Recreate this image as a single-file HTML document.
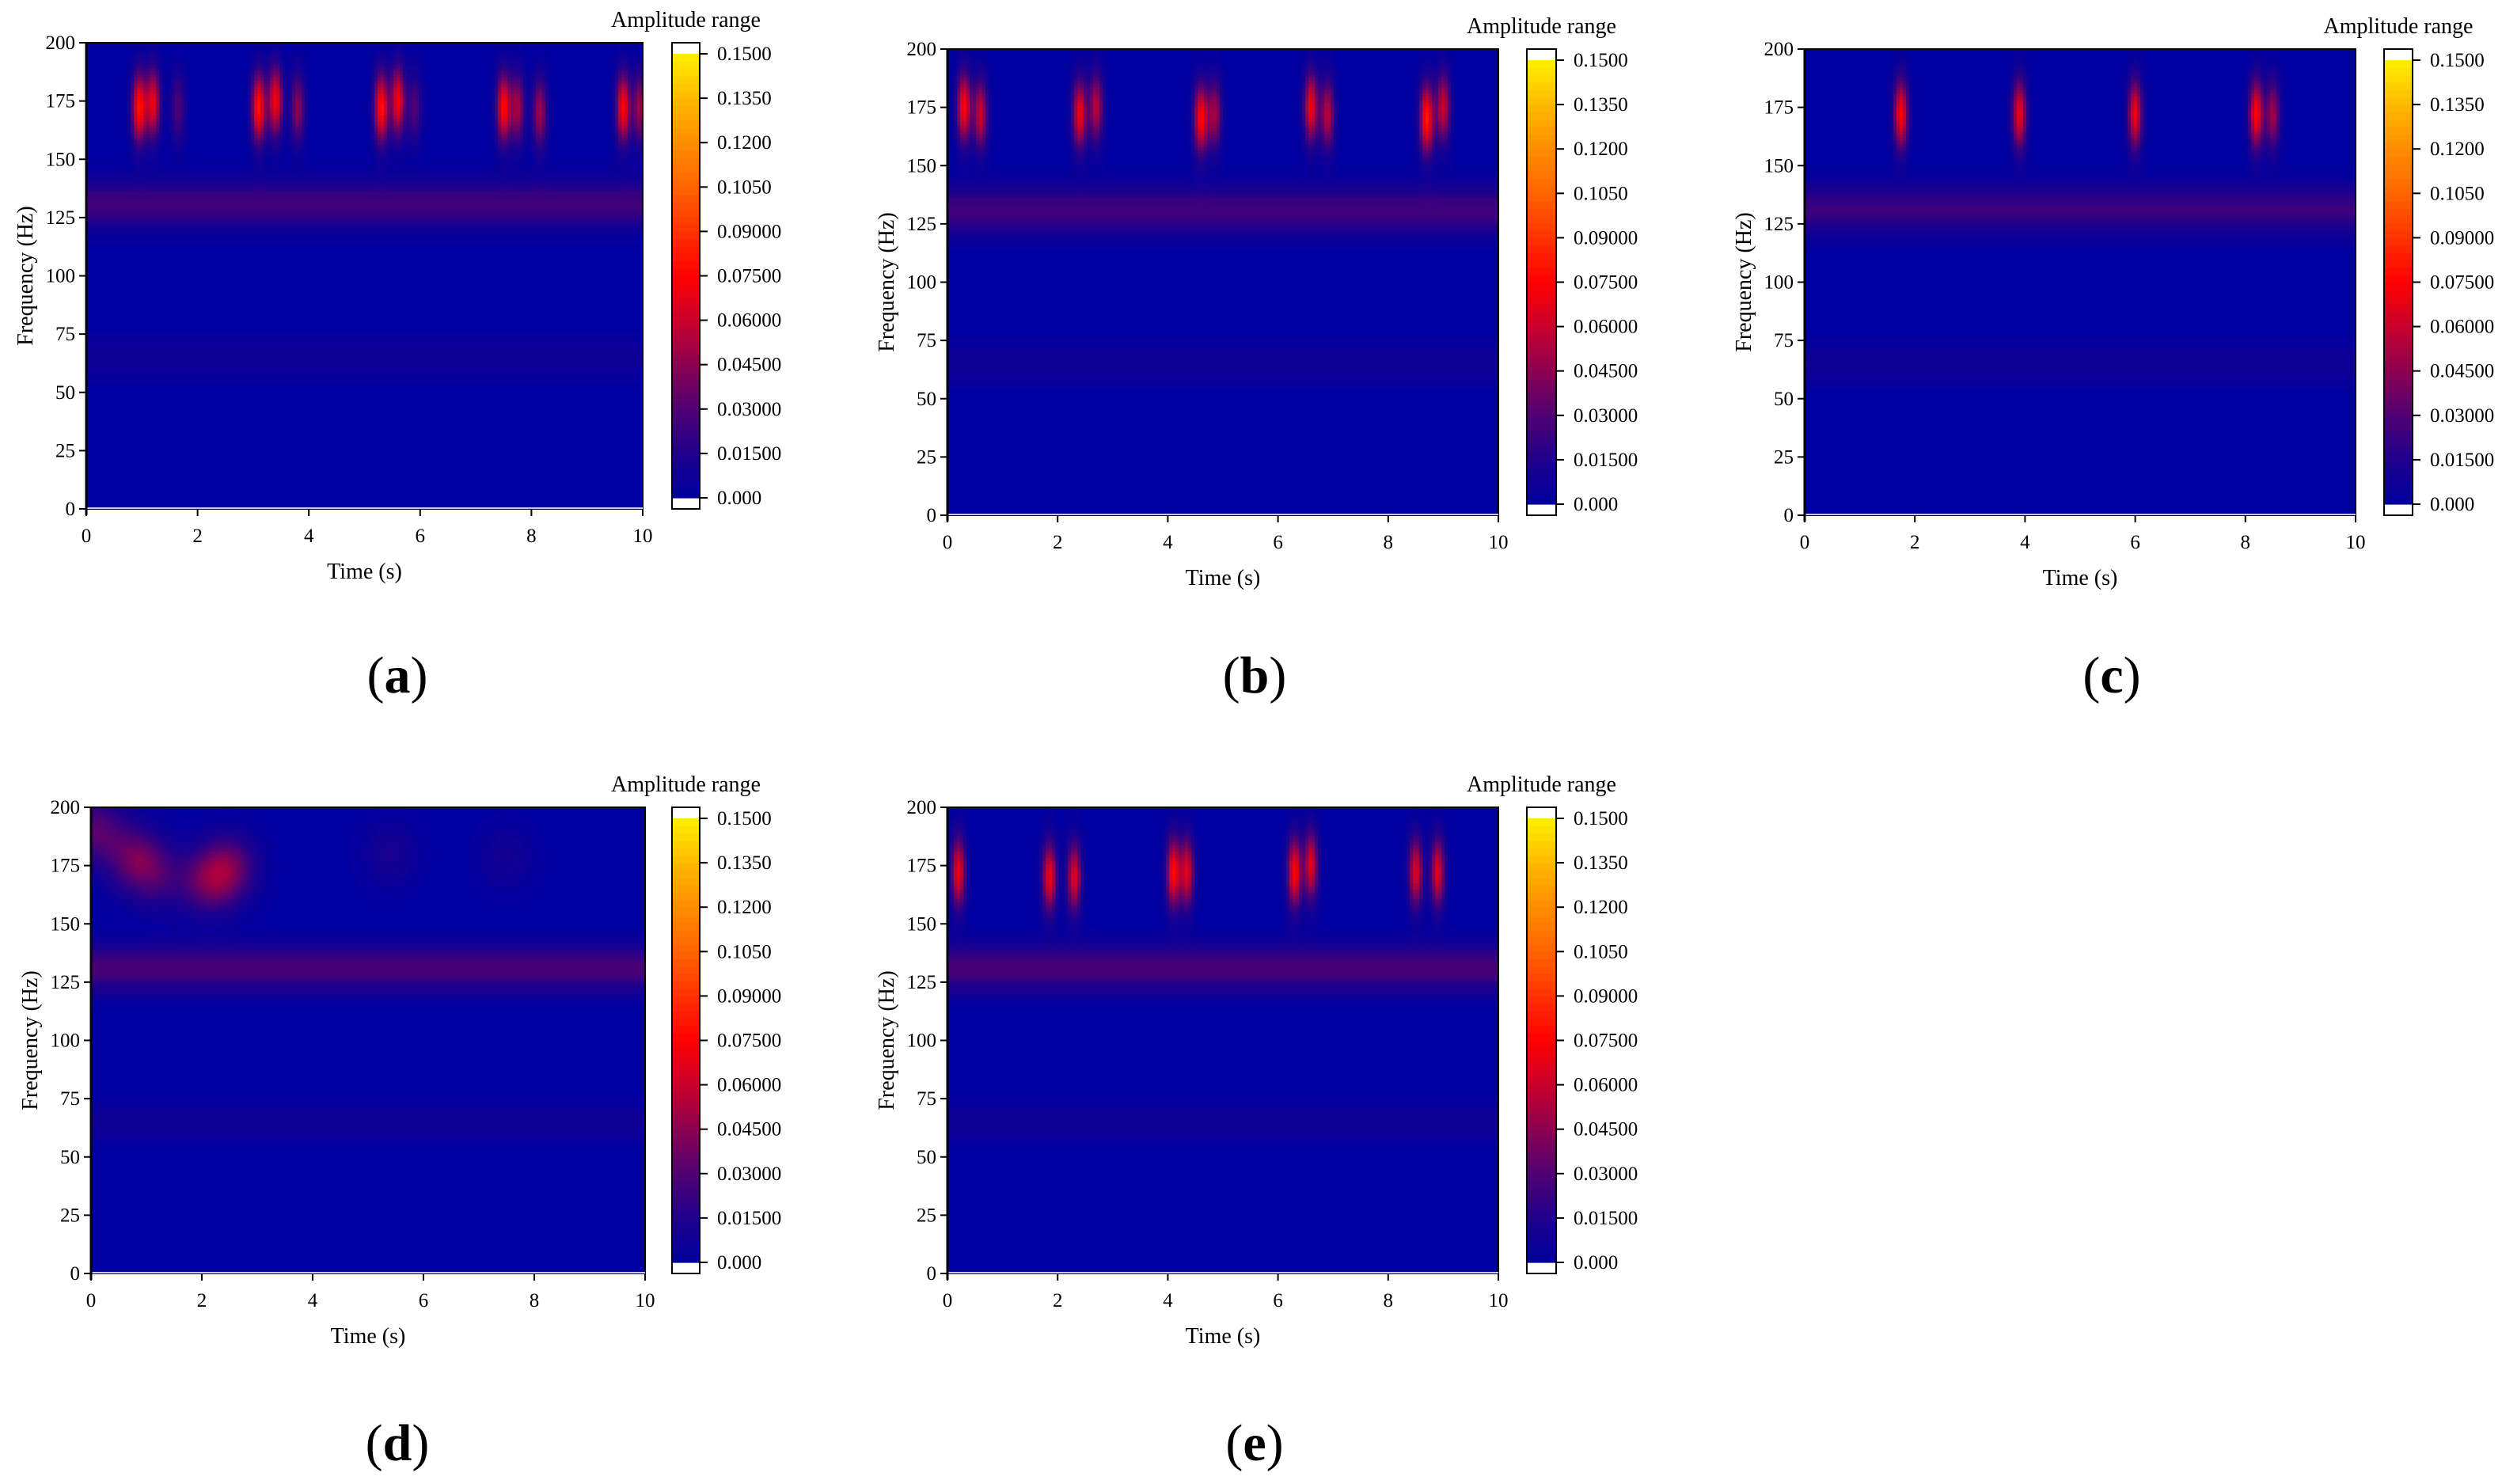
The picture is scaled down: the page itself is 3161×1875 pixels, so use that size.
<!DOCTYPE html>
<html><head><meta charset="utf-8">
<style>
html,body{margin:0;padding:0;background:#fff;}
#root{position:relative;width:3161px;height:1875px;overflow:hidden;font-family:"Liberation Serif",serif;}
#fig{position:absolute;left:0;top:0;}
</style></head>
<body>
<div id="root">
<svg id="fig" width="3161" height="1875" xmlns="http://www.w3.org/2000/svg" shape-rendering="crispEdges"><g id="heat"></g><g id="axes" shape-rendering="auto"></g></svg>
</div>
<script>
// ---- data ----
var xTicks = [0,2,4,6,8,10];
var yTicks = [0,25,50,75,100,125,150,175,200];
var cbTicks = [0.15,0.135,0.12,0.105,0.09,0.075,0.06,0.045,0.03,0.015,0];
var cbLabels = ["0.1500","0.1350","0.1200","0.1050","0.09000","0.07500","0.06000","0.04500","0.03000","0.01500","0.000"];
var burstTimesA = [0.95,1.2,1.65,3.1,3.4,3.8,5.3,5.6,5.9,7.5,7.75,8.15,9.65,9.95];
var burstFreqsA = [172,174,172,172,175,172,172,175,172,172,172,170,172,172];
var burstAmpsA  = [0.08,0.068,0.03,0.08,0.072,0.045,0.08,0.07,0.03,0.075,0.05,0.05,0.075,0.05];
var burstTimesB = [0.3,0.6,2.4,2.7,4.6,4.85,6.6,6.9,8.7,9.0];
var burstFreqsB = [175,172,172,175,170,172,175,172,170,175];
var burstAmpsB  = [0.075,0.06,0.07,0.055,0.075,0.05,0.07,0.055,0.082,0.06];
var burstTimesC = [1.75,3.9,6.0,8.2,8.5];
var burstFreqsC = [172,172,172,172,172];
var burstAmpsC  = [0.075,0.07,0.07,0.075,0.05];
var burstTimesD = [0.1,0.8,1.2,2.1,2.5,5.4,7.5];
var burstFreqsD = [190,178,170,168,174,180,178];
var burstAmpsD  = [0.03,0.032,0.02,0.032,0.034,0.012,0.01];
var burstTimesE = [0.2,1.85,2.3,4.1,4.35,6.3,6.6,8.5,8.9];
var burstFreqsE = [172,170,170,172,172,172,175,172,172];
var burstAmpsE  = [0.07,0.07,0.065,0.075,0.065,0.075,0.065,0.065,0.065];
var bandLevels = [0.026,0.026,0.024,0.028,0.028];
var panelLetters = ["a","b","c","d","e"];

var panels = [
 {l:109,r:812,t:54,b:643,cb:849,cbr:884,tx:burstTimesA,fq:burstFreqsA,am:burstAmpsA},
 {l:1197,r:1893,t:62,b:651,cb:1929,cbr:1966,tx:burstTimesB,fq:burstFreqsB,am:burstAmpsB},
 {l:2280,r:2976,t:62,b:651,cb:3012,cbr:3048,tx:burstTimesC,fq:burstFreqsC,am:burstAmpsC},
 {l:115,r:815,t:1020,b:1609,cb:849,cbr:884,tx:burstTimesD,fq:burstFreqsD,am:burstAmpsD},
 {l:1197,r:1893,t:1020,b:1609,cb:1929,cbr:1966,tx:burstTimesE,fq:burstFreqsE,am:burstAmpsE}
];
var labelPos=[[502,875],[1585,875],[2668,875],[502,1845],[1585,1845]];

var stops=[[0,[0,0,160]],[0.015,[30,0,140]],[0.03,[80,0,115]],[0.045,[140,0,80]],[0.06,[200,0,45]],[0.075,[255,0,0]],[0.09,[255,50,0]],[0.105,[255,100,0]],[0.12,[255,140,0]],[0.135,[255,185,0]],[0.15,[255,240,0]]];
function cmap(v){
  if(v<=0)return stops[0][1];
  for(var i=1;i<stops.length;i++){ if(v<=stops[i][0]){var a=stops[i-1],b=stops[i];var f=(v-a[0])/(b[0]-a[0]);return [0,1,2].map(function(k){return Math.round(a[1][k]+(b[1][k]-a[1][k])*f);});}}
  return stops[stops.length-1][1];
}
var NS="http://www.w3.org/2000/svg";
var axesG=document.getElementById('axes');
var heatG=document.getElementById('heat');
function mk(parent,tag,attrs,txt){var e=document.createElementNS(NS,tag);for(var k in attrs)e.setAttribute(k,attrs[k]);if(txt!==undefined)e.textContent=String(txt);parent.appendChild(e);return e;}
function el(tag,attrs,txt){return mk(axesG,tag,attrs,txt);}

function drawHeat(p,pi){
  var W=p.r-p.l,H=p.b-p.t,cw=4,ch=4;
  var nx=Math.ceil(W/cw),ny=Math.ceil(H/ch);
  var g=mk(heatG,'g',{});
  
  
  var band=bandLevels[pi];
  for(var j=0;j<ny;j++){
    var f=200-((j+0.5)*ch/H)*200;
    var bandV=band*Math.exp(-Math.pow((f-131)/10,2))+0.007*Math.exp(-Math.pow((f-65)/9,2));
    var runStart=0,runKey=null;
    for(var i=0;i<=nx;i++){
      var key='end';
      if(i<nx){
        var t=(i+0.5)*cw/W*10;
        var v=bandV;
        for(var k=0;k<p.tx.length;k++){
          var wide=pi===3?0.5:0.13;
          var fs=pi===3?14:15;
          var df=(f-p.fq[k])/fs, dt=(t-p.tx[k])/wide;
          var ee=dt*dt+df*df; if(ee<12) v+=p.am[k]*Math.exp(-ee);
        }
        var q=Math.round(v/0.0025)*0.0025;
        key=q.toFixed(4);
      }
      if(key!==runKey){
        if(runKey!==null){
          var c=cmap(parseFloat(runKey));
          var x0=p.l+runStart*cw, x1=Math.min(p.l+i*cw,p.r);
          mk(g,'rect',{x:x0,y:p.t+j*ch,width:x1-x0,height:Math.min(ch,p.b-(p.t+j*ch)),fill:'rgb('+c[0]+','+c[1]+','+c[2]+')'});
        }
        runKey=key;runStart=i;
      }
    }
  }
}

panels.forEach(function(p,pi){
  try{ drawHeat(p,pi); }catch(err){}
  try{
  var W=p.r-p.l,H=p.b-p.t;
  var xs=function(t){return p.l+t/10*W;}, ys=function(f){return p.b-f/200*H;};
  var fr=el('rect',{x:p.l,y:p.t,width:W,height:H,fill:'none',stroke:'#000','stroke-width':2});
  
  
  el('line',{x1:p.l,y1:p.b-1,x2:p.r,y2:p.b-1,stroke:'#c8c8ff','stroke-width':2});
  el('line',{x1:p.l,y1:p.t,x2:p.l,y2:p.b+8,stroke:'#000','stroke-width':3});
  xTicks.forEach(function(t){
    el('line',{x1:xs(t),y1:p.b,x2:xs(t),y2:p.b+9,stroke:'#000','stroke-width':2});
    var tt=el('text',{x:xs(t),y:p.b+42,'font-size':25,'text-anchor':'middle'},t);
    
    
  });
  yTicks.forEach(function(f){
    el('line',{x1:p.l-9,y1:ys(f),x2:p.l,y2:ys(f),stroke:'#000','stroke-width':2});
    var tt=el('text',{x:p.l-14,y:ys(f)+8,'font-size':25,'text-anchor':'end'},f);
    
    
  });
  var xt=el('text',{x:(p.l+p.r)/2,y:p.b+88,'font-size':28,'text-anchor':'middle'},'Time (s)');
  
  
  var yx=p.l-68,yy=(p.t+p.b)/2;
  var yt=el('text',{x:yx,y:yy,'font-size':28,'text-anchor':'middle',transform:'rotate(-90 '+yx+' '+yy+')'},'Frequency (Hz)');
  
  
  var cw=p.cbr-p.cb, cap=14, ct=p.t+cap, cbb=p.b-cap;
  var cs=function(v){return cbb-(v/0.15)*(cbb-ct);};
  for(var i=0;i<60;i++){
    var v0=i/60*0.15; var c=cmap(v0+0.00125);
    el('rect',{x:p.cb,y:cs(v0+0.0025),width:cw,height:cs(v0)-cs(v0+0.0025)+0.6,fill:'rgb('+c[0]+','+c[1]+','+c[2]+')'});
  }
  var cf=el('rect',{x:p.cb,y:p.t,width:cw,height:H,fill:'none',stroke:'#000','stroke-width':2});
  
  
  cbTicks.forEach(function(v,i){
    el('line',{x1:p.cbr,y1:cs(v),x2:p.cbr+10,y2:cs(v),stroke:'#000','stroke-width':2});
    var tt=el('text',{x:p.cbr+22,y:cs(v)+8,'font-size':25},cbLabels[i]);
    
    
  });
  var at=el('text',{x:p.cb+(cw/2),y:p.t-20,'font-size':28,'text-anchor':'middle'},'Amplitude range');
  
  
  var lp=labelPos[pi];
  var lab=el('text',{x:lp[0],y:lp[1],'font-size':66,'text-anchor':'middle'});
  
  
  mk(lab,'tspan',{},'(');
  mk(lab,'tspan',{'font-weight':'bold'},panelLetters[pi]);
  mk(lab,'tspan',{},')');
  }catch(err){}
});
</script>
</body></html>
